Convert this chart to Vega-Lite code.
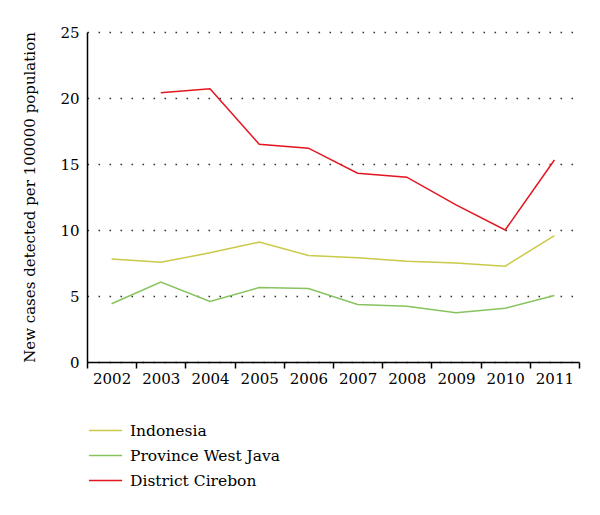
{
  "$schema": "https://vega.github.io/schema/vega-lite/v6.json",
  "autosize": "none",
  "width": 492,
  "height": 330,
  "padding": {"left": 87, "top": 32, "right": 21, "bottom": 153},
  "background": "white",
  "config": {
    "font": "DejaVu Serif",
    "axis": {"labelFont": "DejaVu Serif", "titleFont": "DejaVu Serif"},
    "legend": {"labelFont": "DejaVu Serif"},
    "view": {"stroke": null}
  },
  "data": {
    "values": [
      {"year": "2002", "series": "Indonesia", "value": 7.8},
      {"year": "2003", "series": "Indonesia", "value": 7.56},
      {"year": "2004", "series": "Indonesia", "value": 8.27},
      {"year": "2005", "series": "Indonesia", "value": 9.08},
      {"year": "2006", "series": "Indonesia", "value": 8.07},
      {"year": "2007", "series": "Indonesia", "value": 7.9},
      {"year": "2008", "series": "Indonesia", "value": 7.64},
      {"year": "2009", "series": "Indonesia", "value": 7.5},
      {"year": "2010", "series": "Indonesia", "value": 7.26},
      {"year": "2011", "series": "Indonesia", "value": 9.58},
      {"year": "2002", "series": "Province West Java", "value": 4.41},
      {"year": "2003", "series": "Province West Java", "value": 6.05},
      {"year": "2004", "series": "Province West Java", "value": 4.58},
      {"year": "2005", "series": "Province West Java", "value": 5.64},
      {"year": "2006", "series": "Province West Java", "value": 5.57},
      {"year": "2007", "series": "Province West Java", "value": 4.36},
      {"year": "2008", "series": "Province West Java", "value": 4.23},
      {"year": "2009", "series": "Province West Java", "value": 3.73},
      {"year": "2010", "series": "Province West Java", "value": 4.08},
      {"year": "2011", "series": "Province West Java", "value": 5.04},
      {"year": "2003", "series": "District Cirebon", "value": 20.4},
      {"year": "2004", "series": "District Cirebon", "value": 20.7},
      {"year": "2005", "series": "District Cirebon", "value": 16.5},
      {"year": "2006", "series": "District Cirebon", "value": 16.2},
      {"year": "2007", "series": "District Cirebon", "value": 14.3},
      {"year": "2008", "series": "District Cirebon", "value": 14.0},
      {"year": "2009", "series": "District Cirebon", "value": 11.9},
      {"year": "2010", "series": "District Cirebon", "value": 10.0},
      {"year": "2011", "series": "District Cirebon", "value": 15.3}
    ]
  },
  "mark": {"type": "line", "strokeWidth": 1.5},
  "encoding": {
    "x": {
      "field": "year",
      "type": "ordinal",
      "scale": {"paddingInner": 0, "paddingOuter": 0},
      "axis": {
        "title": null,
        "labelAngle": 0,
        "labelFont": "DejaVu Serif",
        "labelFontSize": 15,
        "labelColor": "black",
        "labelPadding": 3,
        "tickBand": "extent",
        "ticks": true,
        "tickSize": 6,
        "tickColor": "black",
        "tickWidth": 1.5,
        "domainColor": "black",
        "domainWidth": 1.5,
        "grid": false
      }
    },
    "y": {
      "field": "value",
      "type": "quantitative",
      "scale": {"domain": [0, 25], "nice": false},
      "axis": {
        "title": "New cases detected per 100000 population",
        "titleFont": "DejaVu Serif",
        "titleFontSize": 15,
        "titleFontWeight": "normal",
        "titleColor": "black",
        "titlePadding": 22,
        "values": [0, 5, 10, 15, 20, 25],
        "labelFont": "DejaVu Serif",
        "labelFontSize": 15,
        "labelColor": "black",
        "labelPadding": 8,
        "ticks": false,
        "domainColor": "black",
        "domainWidth": 1.5,
        "grid": true,
        "gridColor": "#333333",
        "gridDash": [1.6, 9.4],
        "gridWidth": 1.6
      }
    },
    "color": {
      "field": "series",
      "type": "nominal",
      "scale": {
        "domain": ["Indonesia", "Province West Java", "District Cirebon"],
        "range": ["#c9c94a", "#86c35e", "#e3151f"]
      },
      "legend": {
        "title": null,
        "orient": "none",
        "legendX": 1,
        "legendY": 386,
        "symbolType": "stroke",
        "symbolSize": 1100,
        "symbolStrokeWidth": 1.5,
        "clipHeight": 25,
        "labelFont": "DejaVu Serif",
        "labelFontSize": 15.5,
        "labelColor": "black",
        "labelOffset": 7,
        "rowPadding": 0,
        "padding": 0
      }
    }
  }
}
